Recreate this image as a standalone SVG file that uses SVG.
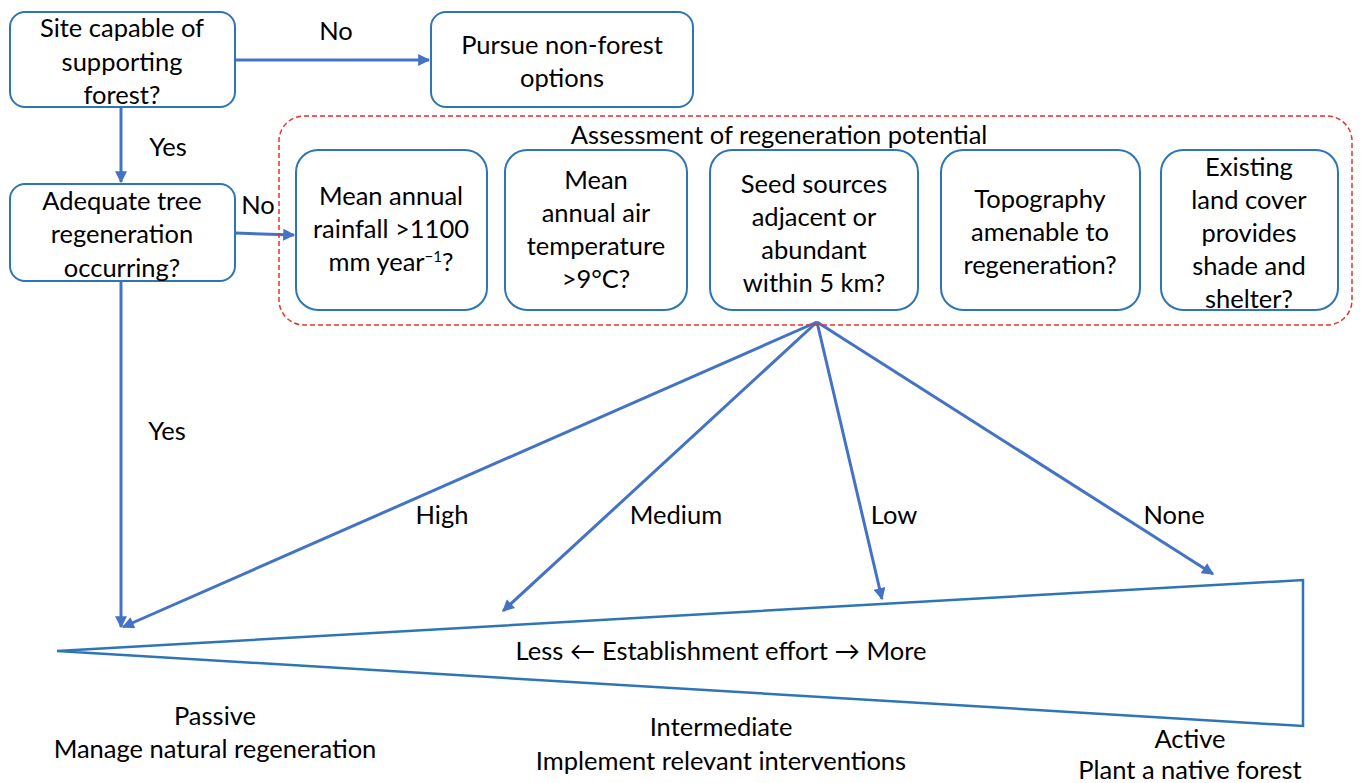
<svg xmlns="http://www.w3.org/2000/svg" width="1363" height="783" viewBox="0 0 1363 783">
<style>
.box{fill:#fff;stroke:#2E75B6;stroke-width:2}
.t{font-family:Lato,"Liberation Sans",sans-serif;font-size:25.5px;fill:#000;text-anchor:middle}
.c{stroke:#4472C4;stroke-width:3;fill:none}
</style>
<defs>
<marker id="ah" viewBox="0 0 10 10" refX="9" refY="5" markerWidth="4.5" markerHeight="4" orient="auto" markerUnits="strokeWidth">
<path d="M0,0 L10,5 L0,10 z" fill="#4472C4"/>
</marker>
</defs>
<rect width="1363" height="783" fill="#fff"/>
<g id="connectors">
<line class="c" x1="235" y1="60" x2="429" y2="60" marker-end="url(#ah)"/>
<line class="c" x1="121" y1="107" x2="121" y2="182" marker-end="url(#ah)"/>
<line class="c" x1="235" y1="233" x2="294" y2="235" marker-end="url(#ah)"/>
<line class="c" x1="121" y1="281" x2="121" y2="627" marker-end="url(#ah)"/>
<line class="c" x1="817" y1="322" x2="123" y2="627" marker-end="url(#ah)"/>
<line class="c" x1="817" y1="322" x2="503" y2="611" marker-end="url(#ah)"/>
<line class="c" x1="817" y1="322" x2="882" y2="599" marker-end="url(#ah)"/>
<line class="c" x1="817" y1="322" x2="1213" y2="574" marker-end="url(#ah)"/>
<text class="t" x="336" y="40">No</text>
<text class="t" x="168" y="156">Yes</text>
<text class="t" x="258" y="214">No</text>
<text class="t" x="167" y="440">Yes</text>
<text class="t" x="442" y="524">High</text>
<text class="t" x="676" y="524">Medium</text>
<text class="t" x="894" y="524">Low</text>
<text class="t" x="1174" y="524">None</text>
</g>
<g id="site">
<rect class="box" x="10" y="12" width="225" height="95" rx="15"/>
<text class="t" x="122" y="37">Site capable of</text>
<text class="t" x="122" y="71">supporting</text>
<text class="t" x="122" y="104">forest?</text>
</g>
<g id="nonforest">
<rect class="box" x="431" y="12" width="262" height="95" rx="15"/>
<text class="t" x="562" y="54">Pursue non-forest</text>
<text class="t" x="562" y="87">options</text>
</g>
<g id="adequate">
<rect class="box" x="10" y="184" width="225" height="97" rx="15"/>
<text class="t" x="122" y="210">Adequate tree</text>
<text class="t" x="122" y="243">regeneration</text>
<text class="t" x="122" y="277">occurring?</text>
</g>
<g id="assessment">
<rect x="279" y="116" width="1073" height="209" rx="25" fill="none" stroke="#E8322A" stroke-width="1.5" stroke-dasharray="5,3"/>
<text class="t" x="779" y="144">Assessment of regeneration potential</text>
</g>
<g id="rainfall">
<rect class="box" x="296" y="150" width="191" height="160" rx="22"/>
<text class="t" x="391" y="205">Mean annual</text>
<text class="t" x="391" y="238">rainfall &gt;1100</text>
<text class="t" x="391" y="271">mm year<tspan dy="-9" font-size="15">−1</tspan><tspan dy="9">?</tspan></text>
</g>
<g id="temperature">
<rect class="box" x="505" y="150" width="182" height="160" rx="22"/>
<text class="t" x="596" y="189">Mean</text>
<text class="t" x="596" y="222">annual air</text>
<text class="t" x="596" y="255">temperature</text>
<text class="t" x="596" y="288">&gt;9°C?</text>
</g>
<g id="seed">
<rect class="box" x="710" y="150" width="208" height="160" rx="22"/>
<text class="t" x="814" y="193">Seed sources</text>
<text class="t" x="814" y="226">adjacent or</text>
<text class="t" x="814" y="259">abundant</text>
<text class="t" x="814" y="292">within 5 km?</text>
</g>
<g id="topography">
<rect class="box" x="941" y="150" width="199" height="160" rx="22"/>
<text class="t" x="1040" y="208">Topography</text>
<text class="t" x="1040" y="241">amenable to</text>
<text class="t" x="1040" y="274">regeneration?</text>
</g>
<g id="landcover">
<rect class="box" x="1161" y="150" width="177" height="160" rx="22"/>
<text class="t" x="1249" y="176">Existing</text>
<text class="t" x="1249" y="209">land cover</text>
<text class="t" x="1249" y="242">provides</text>
<text class="t" x="1249" y="275">shade and</text>
<text class="t" x="1249" y="308">shelter?</text>
</g>
<g id="wedge">
<polygon points="57,651 1303,580 1303,726" fill="none" stroke="#2E75B6" stroke-width="2.5"/>
<text class="t" x="721" y="660">Less ← Establishment effort → More</text>
</g>
<g id="passive">
<text class="t" x="215" y="725">Passive</text>
<text class="t" x="215" y="758">Manage natural regeneration</text>
</g>
<g id="intermediate">
<text class="t" x="721" y="736">Intermediate</text>
<text class="t" x="721" y="770">Implement relevant interventions</text>
</g>
<g id="active">
<text class="t" x="1190" y="748">Active</text>
<text class="t" x="1190" y="779">Plant a native forest</text>
</g>
</svg>
